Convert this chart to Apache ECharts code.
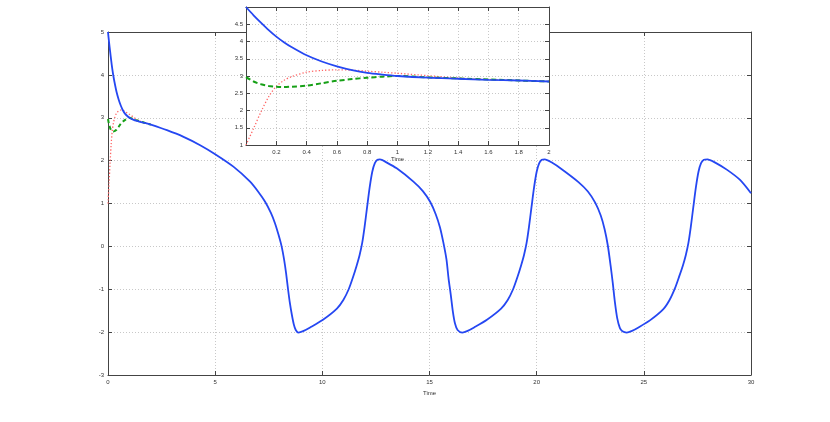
<!DOCTYPE html>
<html>
<head>
<meta charset="utf-8">
<script src="https://cdn.jsdelivr.net/npm/echarts@6/dist/echarts.min.js"></script>
<style>html,body{margin:0;padding:0;background:#fff;}#c{width:830px;height:422px;}</style>
</head>
<body>
<div id="c"></div>
<script>
// Blue solid series (time, value)
const blueData = [
  [0,5],[0.05,4.76],[0.1,4.54],[0.15,4.33],[0.2,4.14],[0.25,3.98],[0.3,3.84],[0.4,3.6],[0.5,3.42],[0.6,3.28],
  [0.7,3.17],[0.8,3.09],[0.9,3.04],[1.0,3.0],[1.2,2.95],[1.4,2.92],[1.6,2.89],[1.8,2.87],[2.0,2.84],
  [2.75,2.71],[3.5,2.56],[4.3,2.36],[5.0,2.15],[5.85,1.86],[6.63,1.51],[7.0,1.28],[7.33,1.04],
  [7.6,0.78],[7.79,0.54],[7.95,0.28],[8.1,0.0],[8.22,-0.32],[8.31,-0.63],[8.4,-1.0],[8.48,-1.3],
  [8.58,-1.6],[8.67,-1.82],[8.76,-1.95],[8.88,-2.01],
  [9.13,-1.97],[9.43,-1.89],[10.03,-1.71],[10.68,-1.45],[10.98,-1.25],[11.23,-1.0],[11.43,-0.72],
  [11.6,-0.45],[11.74,-0.2],[11.86,0.08],[11.97,0.45],[12.09,0.92],[12.21,1.38],[12.33,1.74],[12.45,1.94],
  [12.57,2.02],[12.69,2.03],
  [12.99,1.96],[13.47,1.82],[14.25,1.51],[14.69,1.29],[15.03,1.04],[15.29,0.75],[15.49,0.44],
  [15.65,0.08],[15.79,-0.3],[15.89,-0.75],[15.99,-1.12],[16.09,-1.52],[16.19,-1.8],[16.31,-1.95],[16.53,-2.01],
  [16.78,-1.97],[17.08,-1.89],[17.68,-1.71],[18.34,-1.45],[18.65,-1.25],[18.9,-1.0],[19.1,-0.72],
  [19.27,-0.45],[19.41,-0.2],[19.53,0.08],[19.64,0.45],[19.76,0.92],[19.88,1.38],[20.0,1.74],[20.12,1.94],
  [20.24,2.02],[20.38,2.03],
  [20.69,1.96],[21.17,1.8],[21.95,1.5],[22.39,1.28],[22.73,1.02],[22.99,0.72],[23.17,0.4],[23.32,0.02],
  [23.45,-0.45],[23.55,-0.85],[23.65,-1.3],[23.76,-1.68],[23.88,-1.9],[24.0,-1.98],[24.2,-2.01],
  [24.45,-1.97],[24.75,-1.89],[25.3,-1.72],[25.9,-1.47],[26.2,-1.25],[26.45,-0.98],[26.65,-0.7],
  [26.82,-0.45],[26.96,-0.2],[27.08,0.08],[27.19,0.45],[27.31,0.92],[27.43,1.38],[27.55,1.74],[27.67,1.94],
  [27.8,2.02],[27.97,2.03],[28.31,1.96],[28.87,1.79],[29.49,1.55],[30,1.24]
];
// Red dotted series
const redData = [
  [0,1.0],[0.05,1.48],[0.1,1.97],[0.15,2.4],[0.2,2.7],[0.25,2.87],[0.3,2.98],[0.4,3.11],[0.5,3.16],
  [0.6,3.18],[0.7,3.17],[0.8,3.14],[0.9,3.11],[1.0,3.08],[1.2,3.01],[1.4,2.94],[1.6,2.9],[1.8,2.87],[2.0,2.84]
];
// Green dashed series
const greenData = [
  [0,2.97],[0.05,2.84],[0.1,2.76],[0.15,2.71],[0.2,2.69],[0.25,2.68],[0.3,2.69],[0.4,2.72],[0.5,2.79],
  [0.6,2.86],[0.7,2.91],[0.8,2.95],[0.9,2.98],[1.0,3.0],[1.2,2.96],[1.4,2.93],[1.6,2.9],[1.8,2.87],[2.0,2.84]
];
const mainXTicks = {min:0, max:30, interval:5};
const mainYTicks = {min:-3, max:5, interval:1};
const insetXTicks = {min:0, max:2, interval:0.2};
const insetYTicks = {min:1, max:5, interval:0.5};

const FONT = 'Liberation Sans';
const frame = {show:true, onZero:false, lineStyle:{color:'#444', width:1}};
const grid = {show:true, lineStyle:{color:'#c8c8c8', type:[1,2], width:1}};
const lbl = {color:'#333', fontSize:6, fontFamily:FONT, margin:4};
const tick = {show:true, inside:true, length:4, lineStyle:{color:'#444'}};

function mirrorAxis(base, pos, gi, z) {
  return Object.assign({}, base, {gridIndex:gi, type:'value', position:pos, z:z,
    axisLine:frame, axisTick:tick, axisLabel:{show:false}, splitLine:{show:false}});
}

const chart = echarts.init(document.getElementById('c'), null, {renderer:'canvas'});
chart.setOption({
  animation:false,
  backgroundColor:'#fff',
  grid:[
    {left:108, right:79, top:32, bottom:47, show:false, z:0},
    {left:246, right:281, top:7, bottom:277, show:true, backgroundColor:'#fff', borderWidth:0, z:3}
  ],
  xAxis:[
    Object.assign({gridIndex:0, type:'value', position:'bottom', axisLine:frame, axisTick:tick,
      axisLabel:lbl, splitLine:grid, name:'Time', nameLocation:'middle', nameGap:11,
      nameTextStyle:{fontSize:6, color:'#333', fontFamily:FONT}}, mainXTicks),
    mirrorAxis(mainXTicks, 'top', 0, 1),
    Object.assign({gridIndex:1, type:'value', position:'bottom', z:4, axisLine:frame, axisTick:tick,
      axisLabel:Object.assign({}, lbl, {showMinLabel:false}),
      splitLine:grid, name:'Time', nameLocation:'middle', nameGap:10,
      nameTextStyle:{fontSize:6, color:'#333', fontFamily:FONT}}, insetXTicks),
    mirrorAxis(insetXTicks, 'top', 1, 4)
  ],
  yAxis:[
    Object.assign({gridIndex:0, type:'value', position:'left', axisLine:frame, axisTick:tick,
      axisLabel:lbl, splitLine:grid}, mainYTicks),
    mirrorAxis(mainYTicks, 'right', 0, 1),
    Object.assign({gridIndex:1, type:'value', position:'left', z:4, axisLine:frame, axisTick:tick,
      axisLabel:Object.assign({}, lbl, {showMaxLabel:false, margin:3}),
      splitLine:grid}, insetYTicks),
    mirrorAxis(insetYTicks, 'right', 1, 4)
  ],
  series:[
    {type:'line', xAxisIndex:0, yAxisIndex:0, data:redData, showSymbol:false, smooth:0.3, z:2,
      lineStyle:{color:'#ff6666', width:1.3, type:[1.3,2]}},
    {type:'line', xAxisIndex:0, yAxisIndex:0, data:greenData, showSymbol:false, smooth:0.3, z:2,
      lineStyle:{color:'#17a017', width:2, type:[4,3]}},
    {type:'line', xAxisIndex:0, yAxisIndex:0, data:blueData, showSymbol:false, smooth:0.25, z:2,
      lineStyle:{color:'#2547f2', width:1.8}},
    {type:'line', xAxisIndex:2, yAxisIndex:2, data:redData, showSymbol:false, smooth:0.3, z:5,
      lineStyle:{color:'#ff6666', width:1.3, type:[1.3,2]}},
    {type:'line', xAxisIndex:2, yAxisIndex:2, data:greenData, showSymbol:false, smooth:0.3, z:5,
      lineStyle:{color:'#17a017', width:2, type:[5,3]}},
    {type:'line', xAxisIndex:2, yAxisIndex:2, data:blueData.filter(p => p[0] <= 2), showSymbol:false, smooth:0.3, z:5,
      lineStyle:{color:'#2547f2', width:1.8}}
  ]
});
</script>
</body>
</html>
